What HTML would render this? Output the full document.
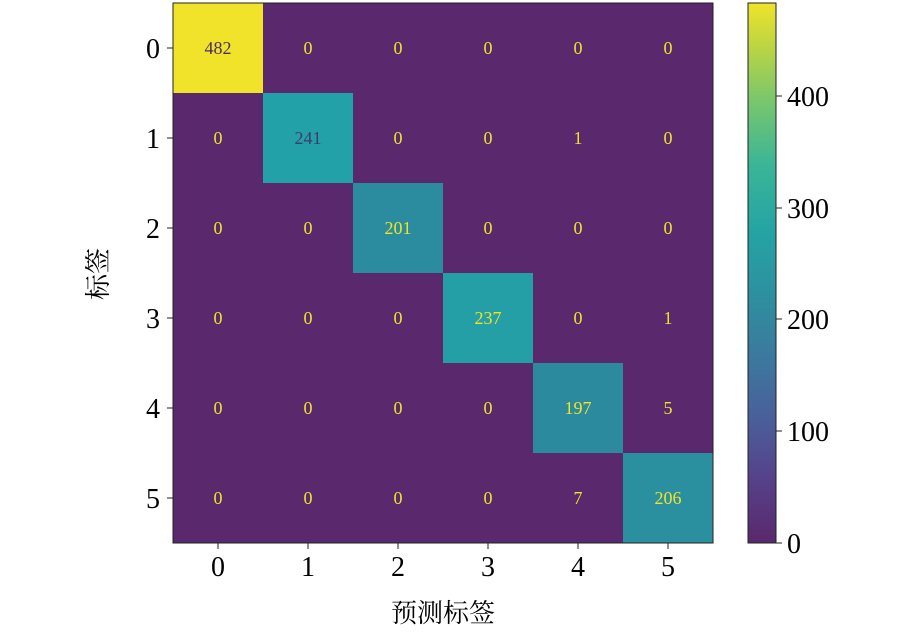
<!DOCTYPE html>
<html><head><meta charset="utf-8"><style>
body{margin:0;background:#fff;width:922px;height:632px;overflow:hidden;font-family:"Liberation Serif","Noto Serif CJK SC",serif;}
</style></head><body>
<svg width="922" height="632" xmlns="http://www.w3.org/2000/svg" font-family="Liberation Serif, Noto Serif CJK SC, serif">
<defs><linearGradient id="g" x1="0" y1="1" x2="0" y2="0">
<stop offset="0" stop-color="#5a286c"/>
<stop offset="0.12" stop-color="#56428a"/>
<stop offset="0.23" stop-color="#4a5f9a"/>
<stop offset="0.35" stop-color="#3b7a9e"/>
<stop offset="0.46" stop-color="#2d909f"/>
<stop offset="0.58" stop-color="#25a4a4"/>
<stop offset="0.7" stop-color="#3bb597"/>
<stop offset="0.82" stop-color="#7ac66c"/>
<stop offset="0.92" stop-color="#bcd543"/>
<stop offset="1" stop-color="#f0e32a"/>
</linearGradient></defs>
<rect x="173" y="3" width="540" height="540" fill="#5a286c"/>
<rect x="173" y="3" width="90" height="90" fill="#f0e32a"/>
<rect x="263" y="93" width="90" height="90" fill="#23a1a8"/>
<rect x="353" y="183" width="90" height="90" fill="#2b8c9f"/>
<rect x="443" y="273" width="90" height="90" fill="#249fa6"/>
<rect x="533" y="363" width="90" height="90" fill="#2c8a9e"/>
<rect x="623" y="453" width="90" height="90" fill="#2a90a0"/>
<rect x="173" y="3" width="540" height="540" fill="none" stroke="#222" stroke-width="1"/>
<g font-size="18" text-anchor="middle" fill="#f0e32a">
<text x="218" y="54" fill="#4a2f5e">482</text><text x="308" y="54">0</text><text x="398" y="54">0</text><text x="488" y="54">0</text><text x="578" y="54">0</text><text x="668" y="54">0</text>
<text x="218" y="144">0</text><text x="308" y="144" fill="#3d3a6e">241</text><text x="398" y="144">0</text><text x="488" y="144">0</text><text x="578" y="144">1</text><text x="668" y="144">0</text>
<text x="218" y="234">0</text><text x="308" y="234">0</text><text x="398" y="234">201</text><text x="488" y="234">0</text><text x="578" y="234">0</text><text x="668" y="234">0</text>
<text x="218" y="324">0</text><text x="308" y="324">0</text><text x="398" y="324">0</text><text x="488" y="324">237</text><text x="578" y="324">0</text><text x="668" y="324">1</text>
<text x="218" y="414">0</text><text x="308" y="414">0</text><text x="398" y="414">0</text><text x="488" y="414">0</text><text x="578" y="414">197</text><text x="668" y="414">5</text>
<text x="218" y="504">0</text><text x="308" y="504">0</text><text x="398" y="504">0</text><text x="488" y="504">0</text><text x="578" y="504">7</text><text x="668" y="504">206</text>
</g>
<g stroke="#222" stroke-width="1">
<line x1="167" y1="48" x2="173" y2="48"/><line x1="167" y1="138" x2="173" y2="138"/><line x1="167" y1="228" x2="173" y2="228"/><line x1="167" y1="318" x2="173" y2="318"/><line x1="167" y1="408" x2="173" y2="408"/><line x1="167" y1="498" x2="173" y2="498"/>
<line x1="218" y1="543" x2="218" y2="549"/><line x1="308" y1="543" x2="308" y2="549"/><line x1="398" y1="543" x2="398" y2="549"/><line x1="488" y1="543" x2="488" y2="549"/><line x1="578" y1="543" x2="578" y2="549"/><line x1="668" y1="543" x2="668" y2="549"/>
<line x1="776" y1="543" x2="782" y2="543"/><line x1="776" y1="431" x2="782" y2="431"/><line x1="776" y1="319" x2="782" y2="319"/><line x1="776" y1="208" x2="782" y2="208"/><line x1="776" y1="96" x2="782" y2="96"/>
</g>
<g font-size="28" text-anchor="end">
<text x="160" y="58">0</text><text x="160" y="148">1</text><text x="160" y="238">2</text><text x="160" y="328">3</text><text x="160" y="418">4</text><text x="160" y="508">5</text>
</g>
<g font-size="28" text-anchor="middle">
<text x="218" y="576">0</text><text x="308" y="576">1</text><text x="398" y="576">2</text><text x="488" y="576">3</text><text x="578" y="576">4</text><text x="668" y="576">5</text>
</g>
<rect x="748" y="3" width="28" height="540" fill="url(#g)" stroke="#222" stroke-width="1"/>
<g font-size="28">
<text x="787" y="553">0</text><text x="787" y="441">100</text><text x="787" y="329">200</text><text x="787" y="218">300</text><text x="787" y="106">400</text>
</g>
<text x="443" y="622" font-size="26" text-anchor="middle">预测标签</text>
<text transform="translate(107,274) rotate(-90)" font-size="26" text-anchor="middle">标签</text>
</svg>
</body></html>
